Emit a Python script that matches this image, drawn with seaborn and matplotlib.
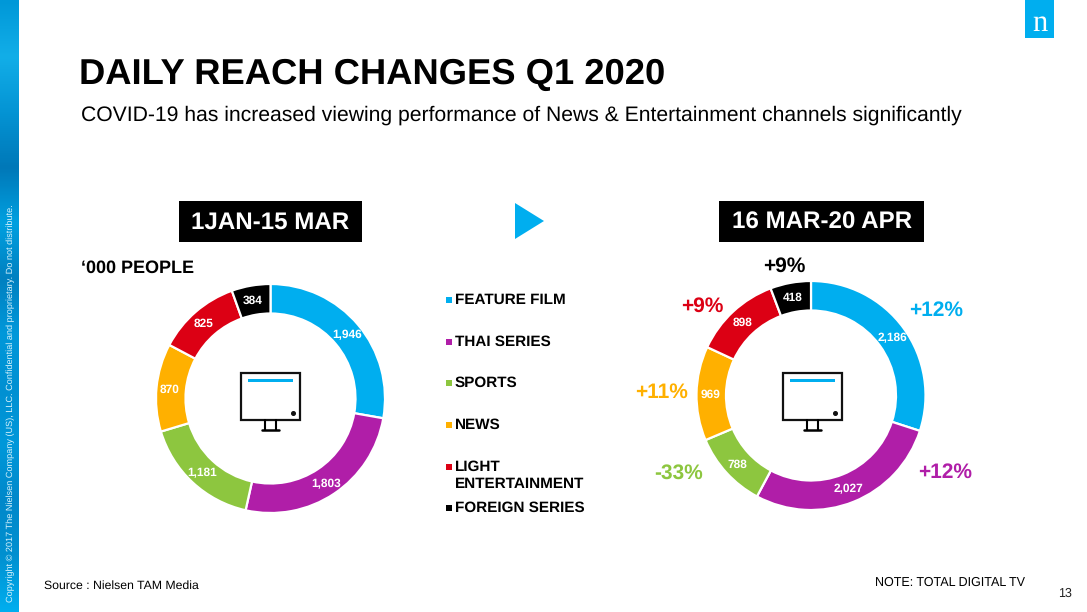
import numpy as np
import matplotlib
matplotlib.use("Agg")
import matplotlib.pyplot as plt
from matplotlib.patches import Rectangle, Polygon
import seaborn as sns

# ---------------------------------------------------
# Data
# ---------------------------------------------------
channels = ["FEATURE FILM", "THAI SERIES", "SPORTS", "NEWS", "LIGHT\nENTERTAINMENT", "FOREIGN SERIES"]
before_values = [1946, 1803, 1181, 870, 825, 384]
after_values = [2186, 2027, 788, 969, 898, 418]
changes = ["+12%", "+12%", "-33%", "+11%", "+9%", "+9%"]
channel_colors = ["#00AEEF", "#B01EA8", "#8DC63F", "#FFB000", "#DC0014", "#000000"]

W, H = 1087, 612
BLUE = channel_colors[0]

sns.set_theme(style="white")
plt.rcParams["font.family"] = ["Liberation Sans", "DejaVu Sans"]
plt.rcParams["text.hinting"] = "none"
plt.rcParams["text.hinting_factor"] = 8
palette = sns.color_palette(channel_colors)

fig = plt.figure(figsize=(W / 100, H / 100), dpi=100, facecolor="white")

# full page axes in pixel coordinates for the slide furniture
page = fig.add_axes([0, 0, 1, 1])
page.set_xlim(0, W)
page.set_ylim(H, 0)
page.axis("off")


def donut(cx, cy, values):
    r = 114.5
    ax = fig.add_axes([(cx - r - 1) / W, 1 - (cy + r + 1) / H, (2 * r + 2) / W, (2 * r + 2) / H])
    ax.pie(values, colors=palette, startangle=90, counterclock=False, radius=r / (r + 1),
           wedgeprops={"width": 29.5 / (r + 1), "edgecolor": "white", "linewidth": 1.6})
    ax.set_xlim(-1, 1)
    ax.set_ylim(-1, 1)
    return ax


def monitor(dx):
    page.add_patch(Rectangle((240.5 + dx, 373), 59.5, 47, fill=False, ec="#111111", lw=1.6))
    page.add_patch(Rectangle((248 + dx, 379), 45, 2.8, fc=BLUE, ec="none"))
    page.plot([292.5 + dx], [413], "o", color="#111111", ms=2.6)
    page.plot([264.5 + dx, 264.5 + dx], [420, 430], color="black", lw=1.5)
    page.plot([275.5 + dx, 275.5 + dx], [420, 430], color="black", lw=1.5)
    page.plot([262 + dx, 279 + dx], [430, 430], color="black", lw=1.8)


# left strip, bands of lighter and darker blue
strip_colors = ["#0098D8", "#12AEE8", "#0494D4", "#0078B8", "#00A0E0", "#0080C0", "#0098DA",
                "#0090D2", "#0098DA", "#0088CA", "#0090D0", "#00AEEF"]
cmap = sns.blend_palette(strip_colors, as_cmap=True)
strip = np.linspace(0, 1, 256).reshape(-1, 1)
page.imshow(strip, extent=(0, 19, H, 0), aspect="auto", cmap=cmap, zorder=1)
page.set_xlim(0, W)
page.set_ylim(H, 0)
page.text(10.5, 602, "Copyright © 2017 The Nielsen Company (US), LLC. Confidential and proprietary. Do not distribute.",
          rotation=90, color="#D8F3FD", fontsize=6.6, ha="center", va="bottom", zorder=2)

# logo
page.add_patch(Rectangle((1025, 0), 29, 38, fc=BLUE, ec="none"))
page.text(1039.5, 24, "n", color="white", fontsize=22, family="Liberation Serif", ha="center", va="center")

# title
page.text(79, 74.5, "DAILY REACH CHANGES Q1 2020", fontsize=26.2, fontweight="bold", color="black", va="center")
page.text(81, 115, "COVID-19 has increased viewing performance of News & Entertainment channels significantly",
          fontsize=15.25, color="black", va="center")

# period boxes
page.add_patch(Rectangle((179, 201), 183, 41, fc="black", ec="none"))
page.text(270.5, 222.5, "1JAN-15 MAR", color="white", fontsize=17.4, fontweight="bold", ha="center", va="center")
page.add_patch(Rectangle((719, 201), 205, 41, fc="black", ec="none"))
page.text(822, 222.5, "16 MAR-20 APR", color="white", fontsize=17.4, fontweight="bold", ha="center", va="center")
page.add_patch(Polygon([(515, 203), (515, 239), (544, 221)], closed=True, fc=BLUE, ec="none"))

page.text(81, 268, "‘000 PEOPLE", fontsize=13, fontweight="bold", color="black", va="center")

# donuts
donut(270.5, 398.5, before_values)
donut(811, 395.5, after_values)
monitor(0)
monitor(542.3)

# value labels
before_pos = [(347, 335), (326, 484), (202, 473), (170, 390), (204, 324), (253, 301)]
after_pos = [(892, 338), (848, 489), (737, 465), (711, 395), (743, 323), (793, 298)]
overlay = fig.add_axes([0, 0, 1, 1], facecolor="none")
overlay.set_xlim(0, W)
overlay.set_ylim(H, 0)
overlay.axis("off")
for vals, positions in [(before_values, before_pos), (after_values, after_pos)]:
    for v, (x, y) in zip(vals, positions):
        overlay.text(x, y, f"{v:,}", color="white", fontsize=8.6, fontweight="bold", ha="center", va="center")

# change labels round the second donut
change_pos = [(936, 310), (945, 472), (679, 473), (662, 392), (702, 306), (784, 266)]
for label, color, (x, y) in zip(changes, channel_colors, change_pos):
    overlay.text(x, y, label, color=color, fontsize=15, fontweight="bold", ha="center", va="center")

# legend
legend_y = [300, 342, 383, 425, 467, 508]
for name, color, y in zip(channels, channel_colors, legend_y):
    overlay.add_patch(Rectangle((445.5, y - 3), 6, 6, fc=color, ec="none"))
    if "\n" in name:
        first, second = name.split("\n")
        overlay.text(455, y, first, fontsize=11, fontweight="bold", color="black", va="center")
        overlay.text(455, y + 17, second, fontsize=11, fontweight="bold", color="black", va="center")
    else:
        overlay.text(455, y, name, fontsize=11, fontweight="bold", color="black", va="center")

# footer
overlay.text(44, 585.5, "Source : Nielsen TAM Media", fontsize=8.85, color="black", va="center")
overlay.text(875, 582.5, "NOTE: TOTAL DIGITAL TV", fontsize=9, color="black", va="center")
overlay.text(1058, 594, "13", fontsize=9, color="#222222", va="center")

fig.savefig("out.png", dpi=100)
